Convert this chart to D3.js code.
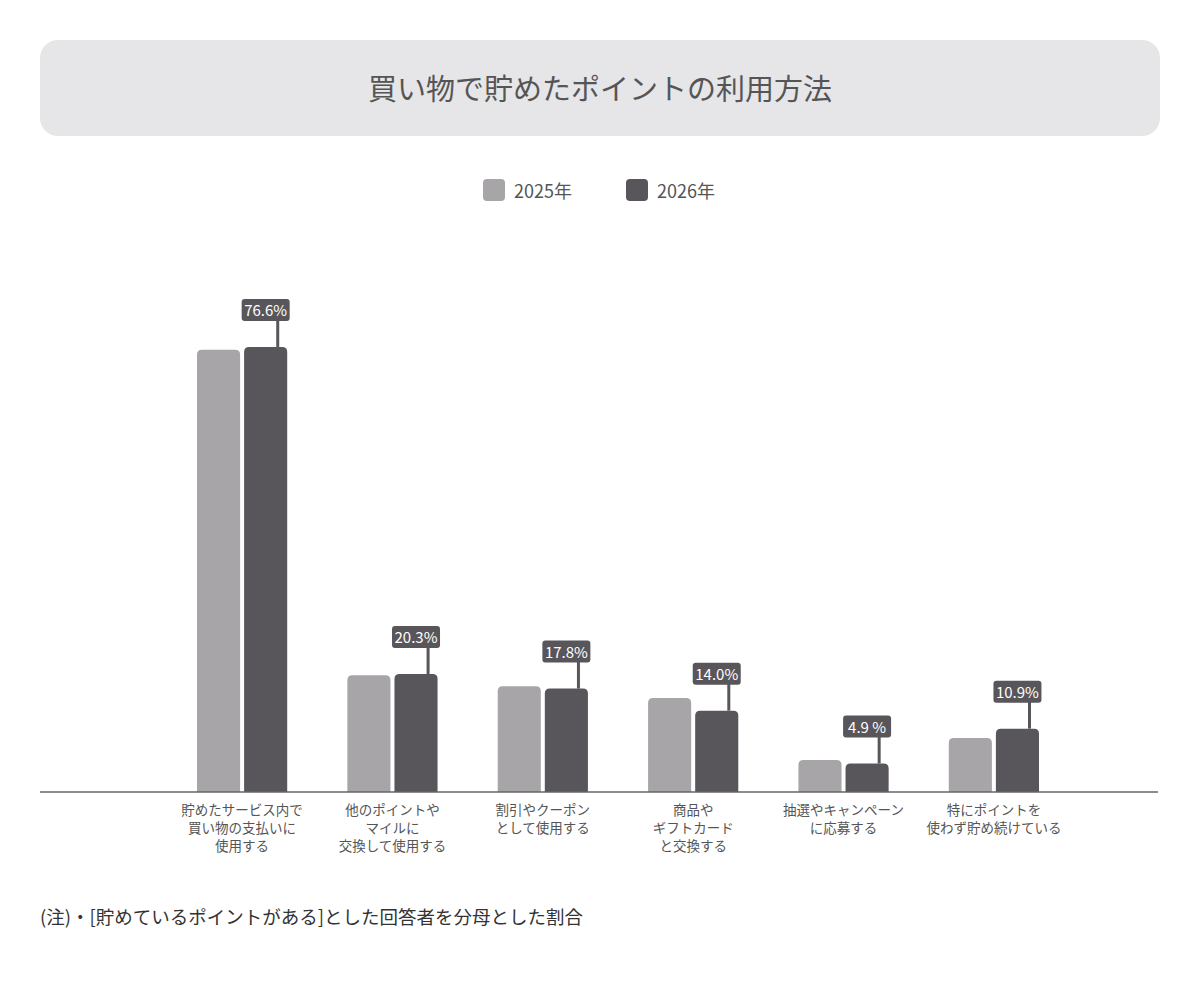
<!DOCTYPE html>
<html><head><meta charset="utf-8">
<script src="https://cdn.jsdelivr.net/npm/d3@7"></script>
<style>body{margin:0;background:#fff;font-family:"Noto Sans CJK JP","Noto Sans",sans-serif;}</style>
</head><body><svg id="c" width="1200" height="1000"></svg>
<script>
const categories=[["貯めたサービス内で","買い物の支払いに","使用する"],["他のポイントや","マイルに","交換して使用する"],["割引やクーポン","として使用する"],["商品や","ギフトカード","と交換する"],["抽選やキャンペーン","に応募する"],["特にポイントを","使わず貯め続けている"]];
const series2025=[76.1,20.1,18.2,16.2,5.5,9.3];
const series2026=[76.6,20.3,17.8,14.0,4.9,10.9];
const labels2026=["76.6%","20.3%","17.8%","14.0%","4.9 %","10.9%"];
const seriesNames=["2025年","2026年"];
const colors=["#a7a5a8","#58565a"];
const svg=d3.select("#c");
svg.append("rect").attr("x",40).attr("y",40).attr("width",1120).attr("height",96).attr("rx",18).attr("fill","#e6e5e7");
svg.append("text").attr("x",600).attr("y",100).attr("text-anchor","middle").attr("font-size",29).attr("fill","#555").text("買い物で貯めたポイントの利用方法");
[[483,seriesNames[0]],[626,seriesNames[1]]].forEach((d,i)=>{
 svg.append("rect").attr("x",d[0]).attr("y",179).attr("width",22).attr("height",22).attr("rx",4).attr("fill",colors[i]);
 svg.append("text").attr("x",d[0]+31).attr("y",198).attr("font-size",18).attr("fill","#555").text(d[1]);
});
const x=d3.scaleBand().domain(d3.range(6)).range([197,1039]).paddingInner(0.4).paddingOuter(0);
const y=d3.scaleLinear().domain([0,100]).range([792,211]);
const bw=(x.bandwidth()-4)/2;
const g=svg.append("g");
d3.range(6).forEach(i=>{
 const x0=x(i);
 [series2025[i],series2026[i]].forEach((v,j)=>{
  const bx=x0+j*(bw+4);
  g.append("path").attr("fill",colors[j]).attr("d",`M${bx},792 V${y(v)+5} Q${bx},${y(v)} ${bx+5},${y(v)} H${bx+bw-5} Q${bx+bw},${y(v)} ${bx+bw},${y(v)+5} V792 Z`);
 });
 const bx2=x0+bw+4, top=y(series2026[i]), lx=bx2+bw*0.78;
 g.append("line").attr("x1",lx).attr("x2",lx).attr("y1",top).attr("y2",top-27).attr("stroke","#58565a").attr("stroke-width",3);
 const cx=bx2+bw/2;
 g.append("rect").attr("x",cx-24).attr("y",top-48).attr("width",48).attr("height",22).attr("rx",3).attr("fill","#58565a");
 g.append("text").attr("x",cx).attr("y",top-31).attr("text-anchor","middle").attr("font-size",15).attr("fill","#fff").text(labels2026[i]);
 const c=x0+x.bandwidth()/2;
 categories[i].forEach((t,k)=>g.append("text").attr("x",c).attr("y",815+k*18).attr("text-anchor","middle").attr("font-size",13.5).attr("fill","#555").text(t));
});
svg.append("line").attr("x1",40).attr("x2",1158).attr("y1",792).attr("y2",792).attr("stroke","#666").attr("stroke-width",1.5);
svg.append("text").attr("x",40).attr("y",924).attr("font-size",18.5).attr("fill","#333").text("(注)・[貯めているポイントがある]とした回答者を分母とした割合");
</script></body></html>
